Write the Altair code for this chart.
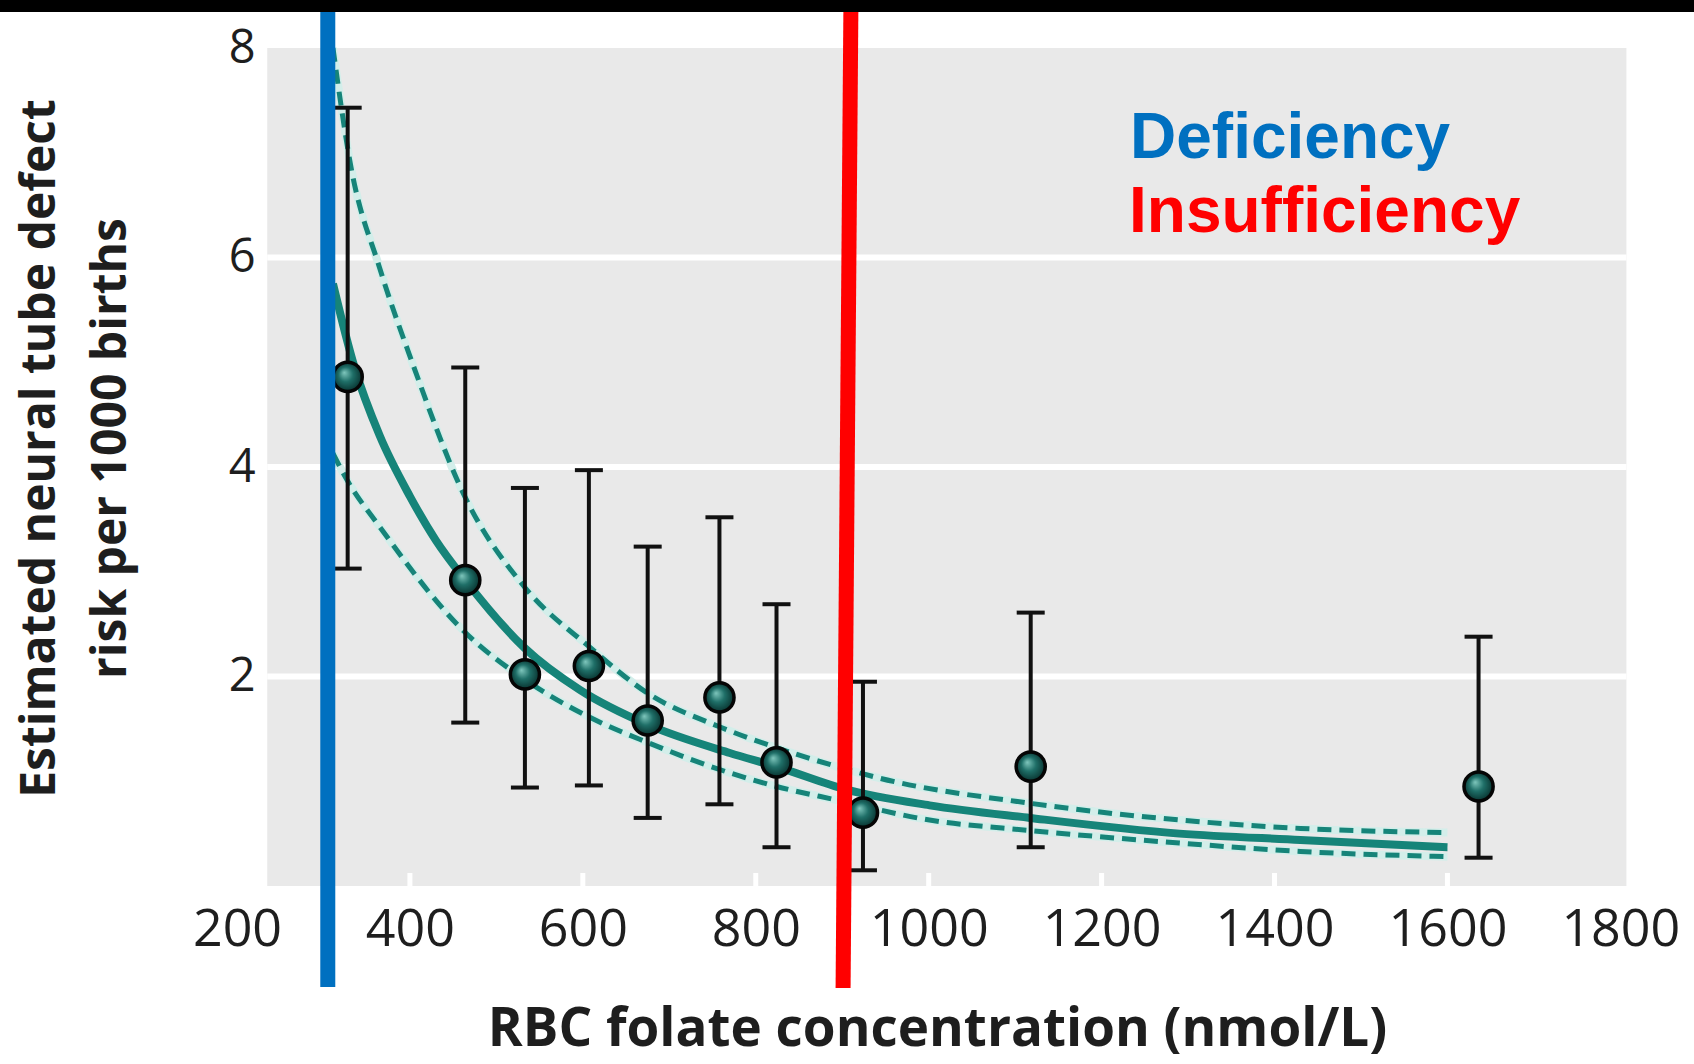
import altair as alt
import pandas as pd

# ---------------- data ----------------
# observed points with 95% CI
pt_x = [328, 464, 533, 607, 675, 758, 824, 924, 1118, 1636]
pt_y = [4.86, 2.92, 2.02, 2.10, 1.58, 1.80, 1.18, 0.70, 1.14, 0.95]
pt_lo = [3.03, 1.56, 0.94, 0.96, 0.65, 0.78, 0.37, 0.15, 0.37, 0.27]
pt_hi = [7.43, 4.95, 3.80, 3.97, 3.24, 3.52, 2.69, 1.95, 2.61, 2.38]

# fitted curve (solid) and its confidence band (dashed)
fit_x = [311, 336, 365, 400, 430, 464, 533, 597, 675, 770, 824, 905, 1001, 1117, 1290, 1430, 1600]
fit_y = [5.75, 4.95, 4.30, 3.72, 3.30, 2.92, 2.27, 1.87, 1.54, 1.27, 1.14, 0.92, 0.77, 0.65, 0.50, 0.44, 0.37]

hi_x = [311, 331, 365, 403, 464, 533, 608, 675, 758, 824, 894, 943, 1117, 1290, 1430, 1600]
hi_y = [8.00, 6.90, 5.90, 4.99, 3.71, 2.85, 2.28, 1.84, 1.52, 1.32, 1.14, 1.03, 0.79, 0.63, 0.55, 0.51]

lo_x = [311, 327, 365, 464, 533, 608, 675, 770, 824, 894, 1001, 1117, 1290, 1430, 1600]
lo_y = [4.13, 3.88, 3.43, 2.42, 1.97, 1.61, 1.37, 1.08, 0.95, 0.82, 0.63, 0.53, 0.41, 0.33, 0.28]

# thresholds (nmol/L)
deficiency_x = [305]
insufficiency_x = [910, 901]   # drawn slightly slanted in the reference

x_ticks = [200, 400, 600, 800, 1000, 1200, 1400, 1600, 1800]
y_ticks = [2, 4, 6, 8]
y_grid = [2, 4, 6]
panel_x = [235, 1807]
panel_y = [0, 8]
inner_ticks = [400, 600, 800, 1000, 1200, 1400, 1600]

# ---------------- layout ----------------
W, H = 1392, 838
PAD_L, PAD_T = 237, 48
PAD_R = 1694 - PAD_L - W
PAD_B = 1064 - PAD_T - H

TEAL = "#168479"
FONT = "Open Sans"
TXT = "#1e1e1e"

xs = alt.Scale(domain=[200, 1810], nice=False, zero=False)
ys = alt.Scale(domain=[0, 8], nice=False, zero=False)

pts = pd.DataFrame({"x": pt_x, "y": pt_y, "lo": pt_lo, "hi": pt_hi})
curves = pd.concat([
    pd.DataFrame({"x": fit_x, "y": fit_y, "s": "fit"}),
    pd.DataFrame({"x": hi_x, "y": hi_y, "s": "hi"}),
    pd.DataFrame({"x": lo_x, "y": lo_y, "s": "lo"}),
])

x_axis = alt.Axis(
    values=x_ticks, format="d", grid=False, domain=False, ticks=False, labelFlush=False,
    labelOverlap=False, labelFont=FONT, labelFontSize=52, labelColor=TXT,
    labelPadding=59, labelBaseline="alphabetic",
    title="RBC folate concentration (nmol/L)", titleFont=FONT, titleFontSize=53,
    titleFontWeight="bold", titleColor=TXT, titleX=700, titleY=159,
    titleBaseline="alphabetic", titleAlign="center",
)
y_axis = alt.Axis(
    values=y_ticks, format="d", grid=False, domain=False, ticks=False, labelFlush=False,
    labelFont=FONT, labelFontSize=47, labelColor=TXT, labelPadding=-18,
    labelAlign="right", labelBaseline="middle",
    title=["Estimated neural tube defect", "risk per 1000 births"],
    titleFont=FONT, titleFontSize=48, titleFontWeight="bold", titleColor=TXT,
    titleX=-197, titleY=400, titleAngle=270, titleBaseline="middle",
    titleAlign="center", titleLineHeight=71,
)

panel = alt.Chart(pd.DataFrame({"x": [panel_x[0]], "x2": [panel_x[1]],
                                "y": [panel_y[0]], "y2": [panel_y[1]]})).mark_rect(
    color="#e9e9e9").encode(
    x=alt.X("x:Q", scale=xs, axis=x_axis),
    x2="x2:Q",
    y=alt.Y("y:Q", scale=ys, axis=y_axis),
    y2="y2:Q",
)

grid = alt.Chart(pd.DataFrame({"y": y_grid, "x": panel_x[0], "x2": panel_x[1]})).mark_rule(
    color="white", strokeWidth=6).encode(
    x=alt.X("x:Q", scale=xs), x2="x2:Q", y=alt.Y("y:Q", scale=ys))

inner = alt.Chart(pd.DataFrame({"x": inner_ticks})).mark_rule(
    color="white", strokeWidth=5).encode(
    x=alt.X("x:Q", scale=xs), y=alt.value(H - 13), y2=alt.value(H))

halo = alt.Chart(curves).transform_filter("datum.s != 'fit'").mark_line(
    color="#d3eeea", strokeWidth=8, interpolate="monotone").encode(
    x=alt.X("x:Q", scale=xs), y=alt.Y("y:Q", scale=ys), detail="s:N")

dashed = alt.Chart(curves).transform_filter("datum.s != 'fit'").mark_line(
    color=TEAL, strokeWidth=5, strokeDash=[14, 8], interpolate="monotone").encode(
    x=alt.X("x:Q", scale=xs), y=alt.Y("y:Q", scale=ys), detail="s:N")

solid = alt.Chart(curves).transform_filter("datum.s == 'fit'").mark_line(
    color=TEAL, strokeWidth=8, interpolate="monotone").encode(
    x=alt.X("x:Q", scale=xs), y=alt.Y("y:Q", scale=ys))

err = alt.Chart(pts).mark_rule(color="#111111", strokeWidth=4).encode(
    x=alt.X("x:Q", scale=xs), y=alt.Y("lo:Q", scale=ys), y2="hi:Q")

cap_hi = alt.Chart(pts).mark_tick(color="#111111", orient="horizontal", size=28,
                                  thickness=4, opacity=1).encode(
    x=alt.X("x:Q", scale=xs), y=alt.Y("hi:Q", scale=ys))
cap_lo = alt.Chart(pts).mark_tick(color="#111111", orient="horizontal", size=28,
                                  thickness=4, opacity=1).encode(
    x=alt.X("x:Q", scale=xs), y=alt.Y("lo:Q", scale=ys))

grad = {
    "gradient": "radial",
    "x1": 0.38, "y1": 0.35, "r1": 0.0,
    "x2": 0.5, "y2": 0.5, "r2": 0.55,
    "stops": [
        {"offset": 0.0, "color": "#7fc7bd"},
        {"offset": 0.45, "color": "#1f6f68"},
        {"offset": 1.0, "color": "#052a27"},
    ],
}
dots = alt.Chart(pts).mark_circle(size=850, fill=grad, stroke="#050505",
                                  strokeWidth=3.5, opacity=1).encode(
    x=alt.X("x:Q", scale=xs), y=alt.Y("y:Q", scale=ys))

blue = alt.Chart(pd.DataFrame({"x": deficiency_x})).mark_rule(
    color="#0070C0", strokeWidth=15).encode(
    x=alt.X("x:Q", scale=xs), y=alt.value(-36), y2=alt.value(939))

red = alt.Chart(pd.DataFrame({"x": [insufficiency_x[0]], "x2": [insufficiency_x[1]]})).mark_rule(
    color="#FF0000", strokeWidth=15).encode(
    x=alt.X("x:Q", scale=xs), x2="x2:Q", y=alt.value(-36), y2=alt.value(940))

topbar = alt.Chart(pd.DataFrame({"a": [0]})).mark_rule(
    color="black", strokeWidth=12).encode(
    x=alt.value(-PAD_L), x2=alt.value(W + PAD_R), y=alt.value(-PAD_T + 6))

lbl_def = alt.Chart(pd.DataFrame({"t": ["Deficiency"]})).mark_text(
    font="Liberation Sans", fontSize=64, fontWeight="bold", color="#0070C0",
    align="left", baseline="alphabetic").encode(
    text="t:N", x=alt.value(893), y=alt.value(110))

lbl_ins = alt.Chart(pd.DataFrame({"t": ["Insufficiency"]})).mark_text(
    font="Liberation Sans", fontSize=64, fontWeight="bold", color="#FF0000",
    align="left", baseline="alphabetic").encode(
    text="t:N", x=alt.value(892), y=alt.value(184))

chart = alt.layer(
    panel, grid, inner, halo, dashed, solid, err, cap_hi, cap_lo, dots,
    blue, red, topbar, lbl_def, lbl_ins,
).properties(
    width=W, height=H,
    autosize=alt.AutoSizeParams(type="none"),
    padding={"left": PAD_L, "top": PAD_T, "right": PAD_R, "bottom": PAD_B},
    background="white",
).configure_view(stroke=None)

chart.save("out.html", embed_options={"renderer": "svg", "actions": False})
